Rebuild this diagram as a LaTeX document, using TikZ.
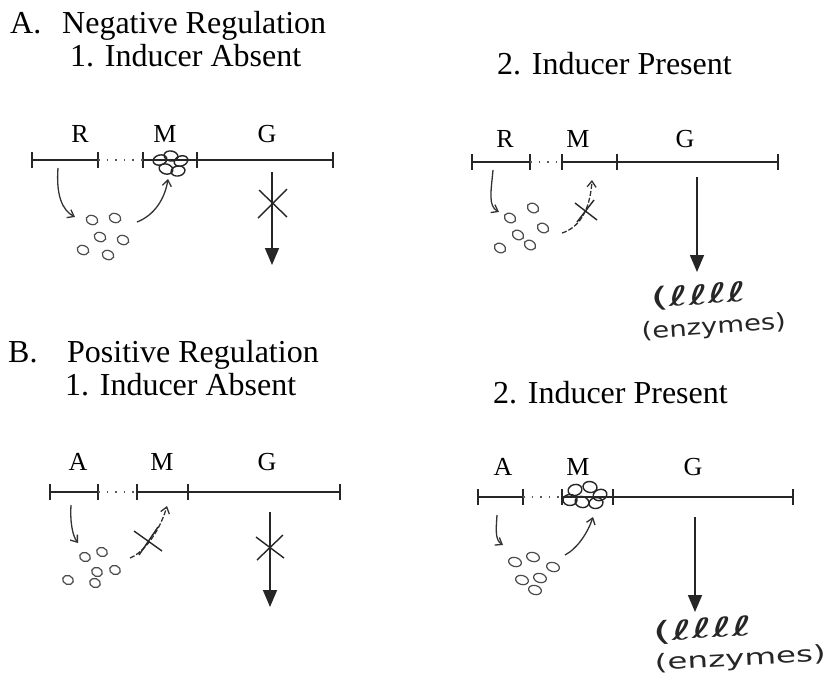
\documentclass[tikz,border=0pt]{standalone}
\usepackage{fontspec}
\setmainfont{Liberation Serif}
\newfontfamily\handfont{DejaVu Sans}
\usetikzlibrary{arrows.meta}
\begin{document}
\begin{tikzpicture}[x=1pt,y=-1pt,
  head/.style={font=\fontsize{32}{36}\selectfont, anchor=base west, inner sep=0},
  lab/.style={font=\fontsize{26}{30}\selectfont, anchor=base, inner sep=0},
  dna/.style={line width=1.8pt, draw=black!85},
  tk/.style={line width=1.5pt, draw=black!85},
  dots/.style={line width=1.6pt, dash pattern=on 1.6pt off 7pt, draw=black!65},
  down/.style={line width=1.6pt, draw=black!85, -{Triangle[length=17pt,width=14pt]}},
  barb/.style={line width=1.3pt, draw=black!80, -{Straight Barb[length=6pt,width=9pt]}},
  dbarb/.style={barb, dash pattern=on 5pt off 2pt},
  cross/.style={line width=1.4pt, draw=black!85},
  mol/.style={line width=1.2pt, draw=black!70},
  hand/.style={font=\handfont\fontsize{22}{24}\selectfont, anchor=base west, inner sep=0, text=black!85},
  ells/.style={font=\handfont\fontsize{27}{29}\selectfont, anchor=base west, inner sep=0, text=black!85}
]
\useasboundingbox (0,0) rectangle (835,681);
\fill[white] (0,0) rectangle (835,681);

% ---------- headings ----------
\node[head] (hA)  at (10,33)  {A.};
\node[head] (hAt) at (62,33)  {Negative Regulation};
\node[head] (hA1) at (70,66)  {1. Inducer Absent};
\node[head] (hA2) at (497,74) {2. Inducer Present};
\node[head] (hB)  at (8,362)  {B.};
\node[head] (hBt) at (67,362) {Positive Regulation};
\node[head] (hB1) at (65,395) {1. Inducer Absent};
\node[head] (hB2) at (493,403) {2. Inducer Present};

% ---------- panel A1 ----------
\node[lab] (a1R) at (80,142) {R};
\node[lab] (a1M) at (165,142) {M};
\node[lab] (a1G) at (267,142) {G};
\foreach \n/\x in {0/32,1/98,2/143,3/197,4/333}{
  \coordinate (a1t\n) at (\x,160);
  \draw[tk] (\x,152) -- (\x,168);
}
\draw[dna] (a1t0) -- (a1t1);
\draw[dots] (a1t1) -- (a1t2);
\draw[dna] (a1t2) -- (a1t4);
% repressor bound on operator
\foreach \cx/\cy/\r in {160/160/15,171/156/-10,181/161/20,166/169/-15,178/171/10}{
  \draw[mol, line width=1.4pt, draw=black!85] (\cx,\cy) ellipse [x radius=7, y radius=5, rotate=\r];
}
\coordinate (a1s) at (58,168);
\coordinate (a1e) at (75,217);
\draw[barb] (a1s) .. controls (56,195) and (62,210) .. (a1e);
\foreach \cx/\cy in {92/220,115/218,100/237,123/240,83/250,108/255}{
  \draw[mol] (\cx,\cy) ellipse [x radius=6, y radius=4.5, rotate=-20];
}
\coordinate (a1f) at (137,222);
\coordinate (a1g) at (168,179);
\draw[barb] (a1f) .. controls (155,215) and (165,198) .. (a1g);
\coordinate (a1d1) at (272,172);
\coordinate (a1d2) at (272,265);
\draw[down] (a1d1) -- (a1d2);
\draw[cross] (259,190) -- (287,217);
\draw[cross] (287,189) -- (258,218);

% ---------- panel A2 ----------
\node[lab] (a2R) at (505,147) {R};
\node[lab] (a2M) at (578,147) {M};
\node[lab] (a2G) at (685,147) {G};
\foreach \n/\x in {0/472,1/530,2/562,3/617,4/778}{
  \coordinate (a2t\n) at (\x,162);
  \draw[tk] (\x,154) -- (\x,170);
}
\draw[dna] (a2t0) -- (a2t1);
\draw[dots] (a2t1) -- (a2t2);
\draw[dna] (a2t2) -- (a2t4);
\coordinate (a2s) at (493,170);
\coordinate (a2e) at (499,212);
\draw[barb] (a2s) .. controls (491,192) and (488,206) .. (a2e);
\foreach \cx/\cy in {533/208,510/218,543/228,518/235,500/248,530/245}{
  \draw[mol] (\cx,\cy) ellipse [x radius=6, y radius=4.5, rotate=-30];
}
\coordinate (a2f) at (562,233);
\coordinate (a2g) at (592,180);
\draw[dbarb] (a2f) .. controls (578,228) and (590,212) .. (a2g);
\draw[cross] (575,203) -- (597,220);
\draw[cross] (594,200) -- (577,222);
\coordinate (a2d1) at (697,177);
\coordinate (a2d2) at (697,272);
\draw[down] (a2d1) -- (a2d2);
\node[ells, rotate=4] (a2l) at (651,308) {\scalebox{1.75}[1]{(ℓℓℓℓ}};
\node[hand, rotate=4] (a2z) at (642,339) {\scalebox{1.25}[1]{(enzymes)}};

% ---------- panel B1 ----------
\node[lab] (b1A) at (78,470) {A};
\node[lab] (b1M) at (162,470) {M};
\node[lab] (b1G) at (267,470) {G};
\foreach \n/\x in {0/50,1/98,2/137,3/188,4/340}{
  \coordinate (b1t\n) at (\x,492);
  \draw[tk] (\x,484) -- (\x,500);
}
\draw[dna] (b1t0) -- (b1t1);
\draw[dots] (b1t1) -- (b1t2);
\draw[dna] (b1t2) -- (b1t4);
\coordinate (b1s) at (71,505);
\coordinate (b1e) at (78,543);
\draw[barb] (b1s) .. controls (70,520) and (72,535) .. (b1e);
\foreach \cx/\cy in {85/557,102/552,97/572,115/570,68/580,95/583}{
  \draw[mol] (\cx,\cy) ellipse [x radius=5.5, y radius=4.5, rotate=-20];
}
\coordinate (b1f) at (130,558);
\coordinate (b1g) at (167,506);
\draw[dbarb] (b1f) .. controls (145,552) and (160,530) .. (b1g);
\draw[cross] (134,531) -- (162,551);
\draw[cross] (158,527) -- (139,555);
\coordinate (b1d1) at (270,512);
\coordinate (b1d2) at (270,607);
\draw[down] (b1d1) -- (b1d2);
\draw[cross] (256,537) -- (284,558);
\draw[cross] (283,535) -- (257,560);

% ---------- panel B2 ----------
\node[lab] (b2A) at (503,475) {A};
\node[lab] (b2M) at (578,475) {M};
\node[lab] (b2G) at (693,475) {G};
\foreach \n/\x in {0/478,1/523,2/562,3/613,4/793}{
  \coordinate (b2t\n) at (\x,497);
  \draw[tk] (\x,489) -- (\x,505);
}
\draw[dna] (b2t0) -- (b2t1);
\draw[dots] (b2t1) -- (b2t2);
\draw[dna, line width=2.4pt] (b2t2) -- (b2t4);
% activator bound on operator
\foreach \cx/\cy/\r in {575/490/15,590/487/-10,600/495/20,582/502/-15,596/503/10,570/500/0}{
  \draw[mol, line width=1.4pt, draw=black!85] (\cx,\cy) ellipse [x radius=7, y radius=5.5, rotate=\r];
}
\coordinate (b2s) at (497,515);
\coordinate (b2e) at (503,545);
\draw[barb] (b2s) .. controls (496,530) and (495,540) .. (b2e);
\foreach \cx/\cy in {515/562,533/557,553/567,522/580,540/578,535/590}{
  \draw[mol] (\cx,\cy) ellipse [x radius=6.5, y radius=4.5, rotate=-15];
}
\coordinate (b2f) at (565,555);
\coordinate (b2g) at (593,517);
\draw[barb] (b2f) .. controls (578,548) and (588,532) .. (b2g);
\coordinate (b2d1) at (695,517);
\coordinate (b2d2) at (695,612);
\draw[down] (b2d1) -- (b2d2);
\node[ells, rotate=3] (b2l) at (653,641) {\scalebox{1.8}[1]{(ℓℓℓℓ}};
\node[hand, rotate=3] (b2z) at (655,670) {\scalebox{1.48}[1]{(enzymes)}};
\end{tikzpicture}
\end{document}
